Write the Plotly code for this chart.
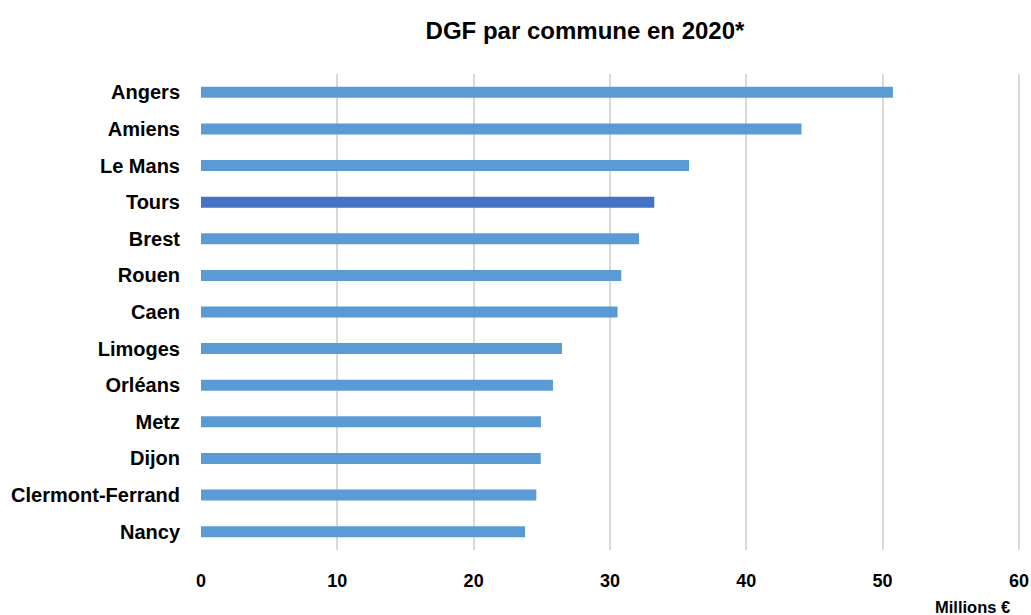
import plotly.graph_objects as go

# DGF par commune en 2020, millions d'euros
communes = ["Angers", "Amiens", "Le Mans", "Tours", "Brest", "Rouen", "Caen",
            "Limoges", "Orléans", "Metz", "Dijon", "Clermont-Ferrand", "Nancy"]
dgf_millions = [50.76, 44.05, 35.8, 33.25, 32.13, 30.83, 30.56,
                26.48, 25.82, 24.94, 24.92, 24.6, 23.77]
x_ticks = [0, 10, 20, 30, 40, 50, 60]

highlight = "Tours"
colors = ["#4472C4" if c == highlight else "#5B9BD5" for c in communes]

FONT = "Liberation Sans, Arial, sans-serif"

# plot-area edges in pixels
LEFT, RIGHT, TOP, BOTTOM = 201, 1020, 74, 550
W, H = 1031, 615

fig = go.Figure(go.Bar(
    x=dgf_millions,
    y=communes,
    orientation="h",
    marker=dict(color=colors, line=dict(width=0)),
    hoverinfo="x+y",
))

fig.update_layout(
    width=W, height=H,
    margin=dict(l=LEFT, r=W - RIGHT, t=TOP, b=H - BOTTOM, autoexpand=False),
    paper_bgcolor="white", plot_bgcolor="white",
    bargap=0.7,
    showlegend=False,
    font=dict(family=FONT, color="#000000"),
    title=dict(
        text="<b>DGF par commune en 2020*</b>",
        x=585 / W, xanchor="center", xref="container",
        y=1 - 31 / H, yanchor="middle", yref="container",
        font=dict(family=FONT, size=24, color="#000000"),
    ),
    xaxis=dict(
        # small overshoot so the 60 gridline stays visible at the edge
        range=[0, 60.08], tickvals=x_ticks,
        ticktext=[f"<b>{v}</b>" for v in x_ticks],
        showgrid=True, gridcolor="#D9D9D9", gridwidth=1.5,
        zeroline=False, showline=False, ticks="",
        automargin=False,
        ticklabelstandoff=18,
        tickfont=dict(family=FONT, size=18, color="#000000"),
    ),
    yaxis=dict(
        autorange="reversed",
        tickvals=communes,
        ticktext=[f"<b>{c}</b>" for c in communes],
        showgrid=False, zeroline=False, showline=False, ticks="",
        automargin=False,
        ticklabelstandoff=20,
        tickfont=dict(family=FONT, size=20, color="#000000"),
    ),
)

# unit label under the right end of the x axis
fig.add_annotation(
    text="<b>Millions €</b>", xref="paper", yref="paper",
    x=(1012 - LEFT) / (RIGHT - LEFT), y=-(607 - BOTTOM) / (BOTTOM - TOP),
    xanchor="right", yanchor="middle", showarrow=False,
    font=dict(family=FONT, size=16.5, color="#000000"),
)

fig.write_html("out.html")
